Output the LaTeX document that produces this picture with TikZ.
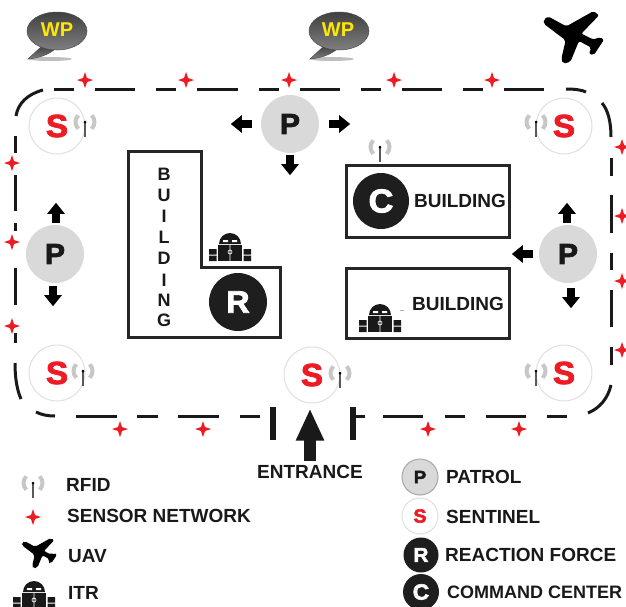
\documentclass[tikz,border=0pt]{standalone}
\usepackage{fontspec}
\setmainfont{Liberation Sans}
\newfontfamily\heavyfont[FakeBold=2.5,FakeStretch=1.04]{Liberation Sans Bold}
\usetikzlibrary{arrows.meta}
\definecolor{sensorred}{HTML}{ED1C24}
\definecolor{darkdisc}{HTML}{1E1E1E}
\tikzset{
  fence/.style={line width=3pt, black!90},
  wall/.style={line width=3pt, black!85},
  blockarrow/.style={line width=8pt, -{Triangle[length=11pt,width=17pt]}},
  bigarrow/.style={line width=12pt, black!90, -{Triangle[length=32pt,width=26pt]}},
  patrol/.style={circle, fill=black!15, minimum size=#1, inner sep=0pt, text=black!90},
  sentinel/.style={circle, draw=black!12, line width=1pt, fill=white, minimum size=#1, inner sep=0pt, text=sensorred},
  force/.style={circle, fill=darkdisc, minimum size=#1, inner sep=0pt, text=white},
  lab/.style={font=\fontsize{19}{20}\selectfont\bfseries, inner sep=0pt, anchor=west, text=black!90},
  bldg/.style={font=\fontsize{19}{20}\selectfont\bfseries, inner sep=0pt, text=black!90},
  tower/.style={font=\fontsize{18}{18}\selectfont\bfseries, inner sep=0pt, text=black!90},
  wplab/.style={font=\fontsize{20}{20}\selectfont\bfseries, inner sep=0pt, text=yellow!90!orange},
  sensorstar/.pic={
    \fill[sensorred] (0,-8) -- (2,-2) -- (8,0) -- (2,2) -- (0,8) -- (-2,2) -- (-8,0) -- (-2,-2) -- cycle;
  },
  rfid/.pic={
    \draw[black!22, line width=4pt] (-6.7,-6.7) arc[start angle=225, end angle=135, radius=9.5];
    \draw[black!22, line width=4pt] (6.7,-6.7) arc[start angle=-45, end angle=45, radius=9.5];
    \draw[black!65, line width=1.2pt] (0,0) -- (0,15);
    \fill[black] (0,0) circle[radius=1.5];
  },
  planeicon/.pic={
    \fill[black, rounded corners=2pt] (-88,-52) -- (-75,-62) -- (-20,-32) -- (62,-78) -- (78,-65)
      -- (25,-10) -- (62,8) -- (80,0) -- (93,8) -- (62,55) -- (48,50) -- (55,32) -- (18,12)
      -- (-8,75) -- (-30,80) -- (-35,65) -- (-22,10) -- (-88,-40) -- cycle;
  },
  roboticon/.pic={
    \fill[black!90] (-11,-3) arc[start angle=180, end angle=360, radius=11] -- cycle;
    \fill[black!90] (-12,-2) rectangle (12,14);
    \fill[black!90] (-21,2) rectangle (-13.5,7.5) (-21,8.5) rectangle (-13.5,14);
    \fill[black!90] (13.5,2) rectangle (21,7.5) (13.5,8.5) rectangle (21,14);
    \fill[white] (-7,-7) rectangle (-2,-5) (2,-7) rectangle (7,-5);
    \draw[white, line width=0.6pt] (0,-2) -- (0,14) (0,5) circle[radius=2];
  },
  wpbubble/.pic={
    \fill[black!25] (-7,28) ellipse[x radius=22, y radius=2];
    \shade[top color=black!75, bottom color=black!50, draw=black!70, line width=0.5pt]
      (-15,15) -- (-29,28) .. controls (-18,27) and (-10,24) .. (-3,19) -- cycle;
    \shade[top color=black!75, bottom color=black!50, draw=black!70, line width=0.5pt]
      (0,0) ellipse[x radius=30, y radius=19];
  }
}
\begin{document}
\begin{tikzpicture}[x=1pt, y=1pt, yscale=-1, every pic/.style={yscale=-1}]
  \clip (0,0) rectangle (626,606);
  \fill[white] (0,0) rectangle (626,606);
  % Way points
  \pic at (57,31) {wpbubble};
  \pic at (339,31) {wpbubble};
  \node[wplab] (wpa) at (57,30) {WP};
  \node[wplab] (wpb) at (338,30) {WP};
  % UAV
  \pic[scale=0.333] at (573,37) {planeicon};
  % Perimeter fence
  \foreach \a/\b in {54/74,95/135,156/176,197/238,259/279,300/340,361/381,402/442,463/483,504/544}
    \draw[fence] (\a,89) -- (\b,89);
  \foreach \a/\b in {76/117,137/158,178/219,240/260,353/365,383/423,445/465,486/526,547/567}
    \draw[fence] (\a,416) -- (\b,416);
  \foreach \a/\b in {136/153,175/211,223/231,268/305,333/343}
    \draw[fence] (15,\a) -- (15,\b);
  \foreach \a/\b in {158/176,195/233,253/270,290/327,347/365}
    \draw[fence] (611,\a) -- (611,\b);
  % Corners
  \draw[fence] (16,116) .. controls (18,103) and (28,94) .. (43,90);
  \draw[fence] (566,89) .. controls (575,89) and (582,90) .. (586,92);
  \draw[fence] (602,103) .. controls (608,110) and (611,122) .. (611,137);
  \draw[fence] (611,385) .. controls (608,398) and (600,408) .. (588,413);
  \draw[fence] (15,363) .. controls (15,378) and (17,390) .. (21,399);
  \draw[fence] (36,412) .. controls (42,415) and (48,416) .. (55,416);
  % Gate posts
  \draw[line width=6pt, black!90] (273,407) -- (273,440);
  \draw[line width=6pt, black!90] (353,407) -- (353,440);
  % Sensor network
  \foreach \x/\y in {85/80,186/80,289/80,394/80,492/80,12/163,12/242,12/326,622/147,622/216,622/281,622/350,120/429,203/429,428/429,519/429,33/517}
    \pic at (\x,\y) {sensorstar};
  % Buildings
  \draw[wall] (128,151) -- (201,151) -- (201,267) -- (280,267) -- (280,337) -- (128,337) -- cycle;
  \draw[wall] (346,165) rectangle (509,237);
  \draw[wall] (346,268) rectangle (509,338);
  \foreach \y/\lab [count=\i] in {174/B,195/U,216/I,237/L,258/D,280/I,300/N,320/G}
    \node[tower] (tower\i) at (164,\y) {\lab};
  \node[bldg] (bldgc) at (460,201) {BUILDING};
  \node[bldg] (bldgi) at (458,304) {BUILDING};
  \draw[black!30, line width=0.4pt] (400,310) -- (404,310);
  % Sentinels
  \node[sentinel=56, font=\heavyfont\fontsize{32}{32}\selectfont] (senttl) at (57,126) {S};
  \node[sentinel=56, font=\heavyfont\fontsize{32}{32}\selectfont] (senttr) at (564,126) {S};
  \node[sentinel=56, font=\heavyfont\fontsize{32}{32}\selectfont] (sentbl) at (57,373) {S};
  \node[sentinel=56, font=\heavyfont\fontsize{32}{32}\selectfont] (sentbr) at (564,373) {S};
  \node[sentinel=56, font=\heavyfont\fontsize{32}{32}\selectfont] (sentc) at (312,375) {S};
  % RFID
  \foreach \x/\y in {85/122,536/122,83/371,536/371,340/373,380/147,33/483}
    \pic at (\x,\y) {rfid};
  % Patrols
  \node[patrol=58, font=\heavyfont\fontsize{29}{29}\selectfont] (ptop) at (290,124) {P};
  \node[patrol=58, font=\heavyfont\fontsize{29}{29}\selectfont] (pleft) at (55,254) {P};
  \node[patrol=58, font=\heavyfont\fontsize{29}{29}\selectfont] (pright) at (568,254) {P};
  \draw[blockarrow] ([xshift=-9pt]ptop.west) -- ++(-21,0);
  \draw[blockarrow] ([xshift=10pt]ptop.east) -- ++(21,0);
  \draw[blockarrow] ([yshift=2pt]ptop.south) -- ++(0,20);
  \draw[blockarrow] ([xshift=1pt,yshift=-2pt]pleft.north) -- ++(0,-20);
  \draw[blockarrow] ([xshift=-2pt,yshift=3pt]pleft.south) -- ++(0,20);
  \draw[blockarrow] ([xshift=-1pt,yshift=-2pt]pright.north) -- ++(0,-20);
  \draw[blockarrow] ([xshift=3pt,yshift=5pt]pright.south) -- ++(0,20);
  \draw[blockarrow] ([xshift=-6pt]pright.west) -- ++(-21,0);
  % Reaction force, command center
  \node[force=58, font=\heavyfont\fontsize{31}{31}\selectfont] (react) at (238,302) {R};
  \node[force=56, font=\heavyfont\fontsize{33}{33}\selectfont] (comm) at (381,201) {C};
  % ITR
  \pic at (230,247) {roboticon};
  \pic at (380,318) {roboticon};
  % Entrance
  \node[bldg] (entrance) at (310,472) {ENTRANCE};
  \draw[bigarrow, shorten <=4pt, shorten >=5pt] (entrance.north) -- (entrance.north |- sentc.south);
  % Legend
  \pic[scale=0.194] at (39,553) {planeicon};
  \pic at (34,595) {roboticon};
  \node[lab] (labrfid) at (66,485) {RFID};
  \node[lab] (labsens) at (67,516) {SENSOR NETWORK};
  \node[lab] (labuav) at (68,556) {UAV};
  \node[lab] (labitr) at (68,593) {ITR};
  \node[patrol=36, draw=black!35, line width=1pt, font=\heavyfont\fontsize{18}{18}\selectfont] (keyp) at (420,477) {P};
  \node[sentinel=36, font=\heavyfont\fontsize{19}{19}\selectfont] (keys) at (420,516) {S};
  \node[force=35, font=\heavyfont\fontsize{20}{20}\selectfont] (keyr) at (421,555) {R};
  \node[force=36, font=\heavyfont\fontsize{22}{22}\selectfont] (keyc) at (421,592) {C};
  \node[lab] (labp) at (446,477) {PATROL};
  \node[lab] (labs) at (446,517) {SENTINEL};
  \node[lab] (labr) at (445,555) {REACTION FORCE};
  \node[lab, font=\fontsize{18}{18}\selectfont\bfseries] (labc) at (447,592) {COMMAND CENTER};
\end{tikzpicture}
\end{document}
